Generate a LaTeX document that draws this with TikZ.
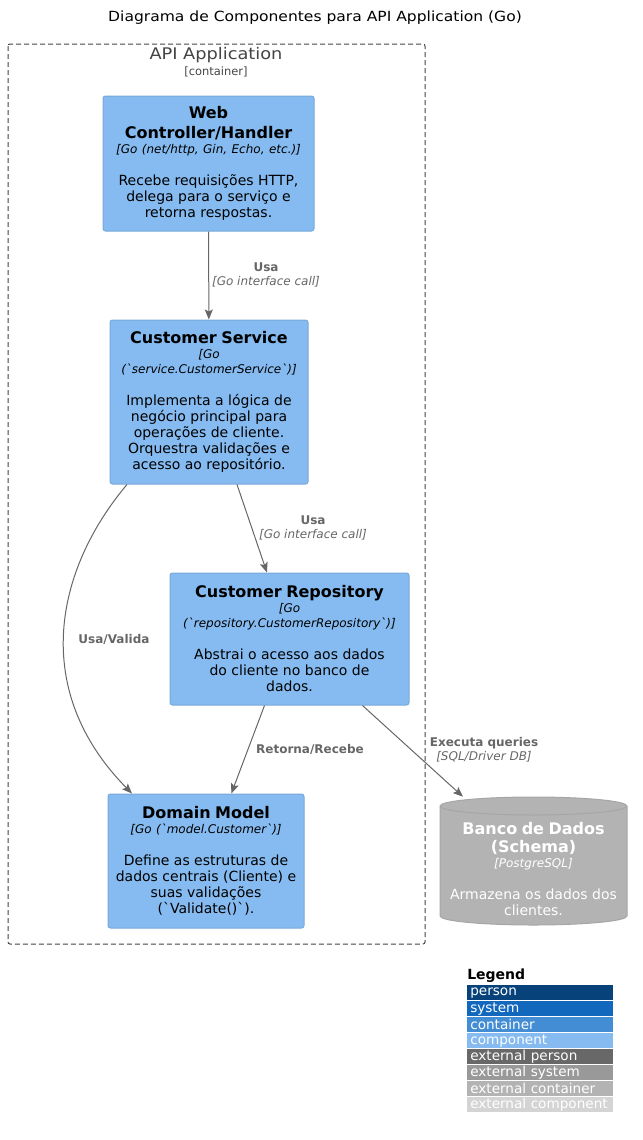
\documentclass[tikz,border=0pt]{standalone}
\usepackage{fontspec}
\setmainfont{DejaVu Sans}
\newfontfamily\dvs{DejaVu Sans}
\newfontfamily\widefont{DejaVu Sans}[FakeStretch=1.11]
\usetikzlibrary{positioning,calc,arrows.meta}
\setlength{\parindent}{0pt}
\newlength{\px}\setlength{\px}{0.75pt}
\definecolor{compfill}{HTML}{85BBF0}
\definecolor{compline}{HTML}{78A8D8}
\definecolor{dbfill}{HTML}{B3B3B3}
\definecolor{dbline}{HTML}{A6A6A6}
\definecolor{relgray}{HTML}{666666}
\definecolor{bndgray}{HTML}{444444}
\definecolor{person}{HTML}{08427B}
\definecolor{system}{HTML}{1168BD}
\definecolor{container}{HTML}{438DD5}
\definecolor{component}{HTML}{85BBF0}
\definecolor{extperson}{HTML}{686868}
\definecolor{extsystem}{HTML}{999999}
\definecolor{extcontainer}{HTML}{B3B3B3}
\definecolor{extcomponent}{HTML}{D4D4D4}
% text parts of a block
\newcommand\bq{{\dvs`}}
\newcommand\ctitle[1]{{\fontsize{12}{15}\selectfont\bfseries #1\par}}
\newcommand\ctech[1]{{\fontsize{9}{11.25}\selectfont\itshape #1\par}}
\newcommand\cdesc[1]{\vspace{12pt}{\fontsize{10.5}{12}\selectfont #1\par}}

\begin{document}
\begin{tikzpicture}[x=1\px, y=-1\px,
    comp block/.style={draw=compline, line width=1\px, fill=compfill, rounded corners=2.5\px, align=center, inner sep=0pt},
    db block/.style={inner sep=0pt, minimum width=187\px, minimum height=128\px},
    rel/.style={draw=relgray, line width=0.75pt, -{Stealth[length=7.5pt, width=6pt, inset=1.5pt]}},
    rel label/.style={text=relgray, align=center, font=\fontsize{9}{10.5}\selectfont},
    legend row/.style={anchor=north west, minimum width=146\px, minimum height=15\px, text width=140\px, inner xsep=3\px, inner ysep=0pt, align=left, text=white, font=\fontsize{10.2}{12}\selectfont}]
    \useasboundingbox (0,0) rectangle (643,1140);

    \node[font=\widefont\fontsize{10.5}{12}\selectfont] (title) at (315,18) {Diagrama de Componentes para API Application (Go)};

    % container boundary
    \draw[bndgray, line width=1\px, dash pattern=on 5\px off 3\px, rounded corners=2\px] (8,44) rectangle (425,944);
    \node[text=bndgray, font=\widefont\fontsize{12}{14}\selectfont] (apiapp) at (216,55) {API Application};
    \node[text=bndgray, font=\fontsize{8.6}{11}\selectfont] (apitype) at (216,72) {[container]};

    \node[comp block, minimum width=211\px, minimum height=135\px, text width=203\px] (web) at (208.5,163.5)
        {\ctitle{Web\\Controller/Handler}\ctech{[Go (net/http, Gin, Echo, etc.)]}\cdesc{Recebe requisições HTTP,\\delega para o serviço e\\retorna respostas.}};
    \node[comp block, minimum width=198\px, minimum height=164\px, text width=190\px] (svc) at (209,402)
        {\ctitle{Customer Service}\ctech{[Go\\(\bq service.CustomerService\bq)]}\cdesc{Implementa a lógica de\\negócio principal para\\operações de cliente.\\Orquestra validações e\\acesso ao repositório.}};
    \node[comp block, minimum width=239\px, minimum height=132\px, text width=231\px] (repo) at (289.5,639)
        {\ctitle{Customer Repository}\ctech{[Go\\(\bq repository.CustomerRepository\bq)]}\cdesc{Abstrai o acesso aos dados\\do cliente no banco de\\dados.}};
    \node[comp block, minimum width=196\px, minimum height=134\px, text width=188\px] (dom) at (206,861)
        {\ctitle{Domain Model}\ctech{[Go (\bq model.Customer\bq)]}\cdesc{Define as estruturas de\\dados centrais (Cliente) e\\suas validações\\(\bq Validate()\bq).}};

    % database cylinder
    \filldraw[fill=dbfill, draw=dbline, line width=1\px] (440,806) -- (440,916)
        arc[start angle=180, end angle=0, x radius=93.5, y radius=9] -- (627,806)
        arc[start angle=0, end angle=-180, x radius=93.5, y radius=9] -- cycle;
    \draw[dbline, line width=1\px] (440,806) arc[start angle=180, end angle=0, x radius=93.5, y radius=9];
    \node[db block] (db) at (533.5,861) {};
    \node[text=white, align=center, text width=180\px, inner sep=0pt] (dbtxt) at (533.5,869)
        {{\fontsize{12}{13.5}\selectfont\bfseries Banco de Dados\\(Schema)\par}\ctech{[PostgreSQL]}\cdesc{Armazena os dados dos\\clientes.}};

    % relations
    \draw[rel] (web) -- (svc);
    \draw[rel] (svc) -- (repo);
    \draw[rel] ($(svc.south)+(-82,0)$) .. controls (55,570) and (30,690) .. ($(dom.north)+(-74,0)$);
    \draw[rel] (repo) -- (dom);
    \draw[rel] (repo) -- (db);

    \node[rel label] (l1) at (266,275) {\textbf{Usa}\\\textit{[Go interface call]}};
    \node[rel label] (l2) at (313,528) {\textbf{Usa}\\\textit{[Go interface call]}};
    \node[rel label] (l3) at (114,639) {\textbf{Usa/Valida}};
    \node[rel label] (l4) at (310,749) {\textbf{Retorna/Recebe}};
    \node[rel label] (l5) at (484,750) {\textbf{Executa queries}\\\textit{[SQL/Driver DB]}};

    % legend
    \node[anchor=west, inner sep=0pt, font=\fontsize{10.5}{12}\selectfont\bfseries] (legend) at (467,976) {Legend};
    \foreach \name/\col [count=\i] in {person/person, system/system, container/container, component/component,
        external person/extperson, external system/extsystem, external container/extcontainer, external component/extcomponent}
        \node[legend row, fill=\col] (leg\i) at (467,{985+16*(\i-1)}) {\mbox{\name}};
\end{tikzpicture}
\end{document}
